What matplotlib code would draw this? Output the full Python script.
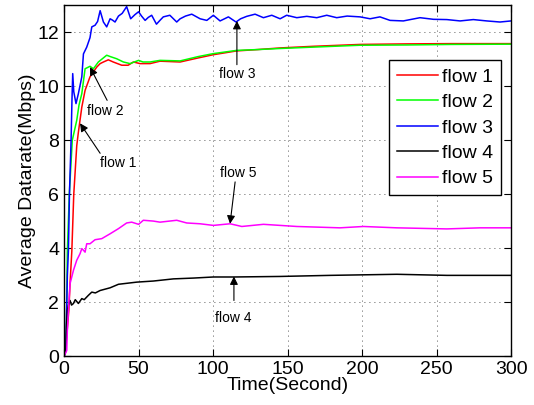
import numpy as np
import matplotlib.pyplot as plt

plt.rcParams['font.family'] = ['Liberation Sans', 'DejaVu Sans']

# ------------------------------------------------------------
# data (time [s], datarate [Mbps])
# ------------------------------------------------------------
t1 = [0, 1.5, 3.2, 4.0, 5.2, 6.5, 8.5, 9.6, 11.9, 14.1, 17.4, 21.9, 24.2, 26.4,
      29.7, 33, 38.7, 43, 46.5, 51, 57.7, 64.4, 77.9, 90, 100.2, 115.9, 130,
      145, 167, 198.7, 230, 260, 300]
v1 = [0, 0.6, 1.7, 2.7, 3.9, 6.0, 7.8, 8.3, 9.23, 9.85, 10.35, 10.71, 10.84, 10.9,
      10.98, 10.9, 10.78, 10.78, 10.9, 10.84, 10.84, 10.93, 10.9, 11.05, 11.17, 11.31, 11.36,
      11.42, 11.48, 11.55, 11.57, 11.58, 11.58]

t2 = [0, 1.5, 2.2, 3.5, 5.5, 8.5, 10, 11.9, 14.1, 17.4, 19.7, 23, 28.6, 31,
      35.3, 39.8, 44.3, 50, 53, 57.7, 64.4, 77.9, 90, 100.2, 115.9, 130, 145,
      167, 198.7, 230, 260, 300]
v2 = [0, 1.0, 3.9, 6.0, 8.0, 8.74, 9.3, 9.73, 10.65, 10.74, 10.65, 10.9, 11.15, 11.1,
      11.02, 10.9, 10.84, 10.96, 10.9, 10.9, 10.96, 10.94, 11.1, 11.21, 11.33, 11.36, 11.4,
      11.45, 11.52, 11.53, 11.55, 11.56]

t3 = [0, 1.2, 2.2, 2.9, 3.6, 4.7, 5.3, 5.8, 6.5, 8.0, 9.6, 11.9, 13, 15.2, 17.4,
      18.6, 20.8, 22.5, 24.2, 26.4, 28.6, 30.9, 32.5, 34.2, 36.5, 39, 42, 44.7,
      47.5, 50, 52, 54.4, 56.5, 58.8, 62, 64.5, 66.6, 71, 75.6, 77.9, 81.5,
      85.7, 91.3, 95.8, 100.2, 104.7, 110.3, 115.4, 118.5, 122.6, 128.2, 133.8,
      139.4, 145, 149.4, 156.2, 162.9, 169.6, 176.3, 183, 190, 198.7, 205.4,
      212, 218.8, 227.7, 238.9, 247.9, 256.9, 265.8, 274.7, 283.7, 292.6, 300]
v3 = [0, 0.3, 3.0, 3.9, 6.0, 8.0, 9.5, 10.47, 9.8, 9.36, 9.73, 10.35, 11.2, 11.45, 11.8,
      12.2, 12.26, 12.4, 12.8, 12.38, 12.2, 12.5, 12.45, 12.38, 12.6, 12.7, 12.95, 12.5,
      12.65, 12.76, 12.6, 12.44, 12.55, 12.63, 12.3, 12.45, 12.57, 12.63, 12.38, 12.5, 12.6,
      12.67, 12.5, 12.44, 12.63, 12.42, 12.57, 12.38, 12.5, 12.59, 12.67, 12.54,
      12.63, 12.5, 12.63, 12.54, 12.59, 12.54, 12.63, 12.54, 12.6, 12.57, 12.5,
      12.57, 12.44, 12.42, 12.54, 12.48, 12.47, 12.42, 12.47, 12.42, 12.38, 12.42]

t4 = [0, 1.2, 1.6, 2.2, 2.9, 4.0, 5.0, 6.3, 7.5, 9.6, 11.9, 13.5, 16.3, 18.6,
      21, 24.2, 30.9, 36.5, 48.8, 59.9, 73.4, 86.8, 100.2, 113.6, 145, 178.5,
      223.3, 256.9, 300]
v4 = [0, 0.2, 1.1, 1.7, 1.9, 2.07, 1.9, 1.96, 2.1, 1.96, 2.14, 2.1, 2.26, 2.38,
      2.35, 2.44, 2.54, 2.67, 2.75, 2.79, 2.87, 2.9, 2.94, 2.94, 2.96, 3.0,
      3.04, 3.0, 3.0]

t5 = [0, 1.8, 2.2, 2.9, 4.0, 6.3, 8.5, 10.7, 11.9, 13, 14.1, 15.2, 17.4, 20.8,
      25.3, 30.9, 36.5, 42, 45.4, 50, 53.2, 59.9, 64.4, 75.6, 82.3, 91.3, 100.2,
      111.4, 119.3, 133.8, 156.2, 185.2, 200.9, 223.3, 256.9, 279.2, 300]
v5 = [0, 0.22, 0.96, 1.7, 2.69, 3.19, 3.56, 3.8, 3.99, 3.93, 3.86, 4.17, 4.17, 4.32,
      4.36, 4.54, 4.73, 4.94, 4.97, 4.89, 5.04, 5.01, 4.97, 5.04, 4.94, 4.91, 4.85,
      4.91, 4.81, 4.89, 4.81, 4.76, 4.81, 4.76, 4.72, 4.76, 4.76]

series = [(t1, v1, 'flow 1'), (t2, v2, 'flow 2'), (t3, v3, 'flow 3'),
          (t4, v4, 'flow 4'), (t5, v5, 'flow 5')]
colors = ['#ff0000', '#00ff00', '#0000ff', '#000000', '#ff00ff']

# annotations: label, text position, arrow tail, arrow head
notes = [
    ('flow 1', (36, 7.15), (24.2, 7.52), (10.7, 8.63)),
    ('flow 2', (27.5, 9.07), (28.9, 9.48), (17.4, 10.71)),
    ('flow 3', (116, 10.44), (116, 10.8), (116, 12.42)),
    ('flow 5', (117, 6.79), (114.8, 6.46), (111.4, 4.91)),
    ('flow 4', (113.6, 1.43), (114, 2.07), (114, 2.96)),
]

fig = plt.figure(figsize=(5.34, 4.05), dpi=100)
ax = fig.add_axes([0.12, 0.12, 0.837, 0.867])

for (t, v, name), c in zip(series, colors):
    ax.plot(t, v, color=c, lw=1.1, label=name)

for name, txt, tail, head in notes:
    ax.text(txt[0], txt[1], name, fontsize=10, ha='center', va='center')
    ax.annotate('', xy=head, xytext=tail,
                arrowprops=dict(arrowstyle='-|>', color='k', lw=0.8,
                                mutation_scale=12, shrinkA=0, shrinkB=0))

ax.set_xlim(0, 300)
ax.set_ylim(0, 13)
ax.set_xticks(np.arange(0, 301, 50))
ax.set_yticks(np.arange(0, 13, 2))
ax.tick_params(direction='in', top=True, right=True, labelsize=14, length=5)
ax.grid(True, color='#222222', linestyle=(0, (1, 5)), lw=0.6)
for s in ax.spines.values():
    s.set_linewidth(1.0)

ax.set_xlabel('Time(Second)', fontsize=14, labelpad=-1)
ax.set_ylabel('Average Datarate(Mbps)', fontsize=14, labelpad=1)

leg = ax.legend(loc='upper left', bbox_to_anchor=(0.727, 0.843), borderaxespad=0,
                fontsize=14, handlelength=2.1, handletextpad=0.25,
                labelspacing=0.4, fancybox=False, framealpha=1, borderpad=0.4)
leg.get_frame().set_edgecolor('k')
leg.get_frame().set_linewidth(1.0)

fig.savefig('out.png', dpi=100)
